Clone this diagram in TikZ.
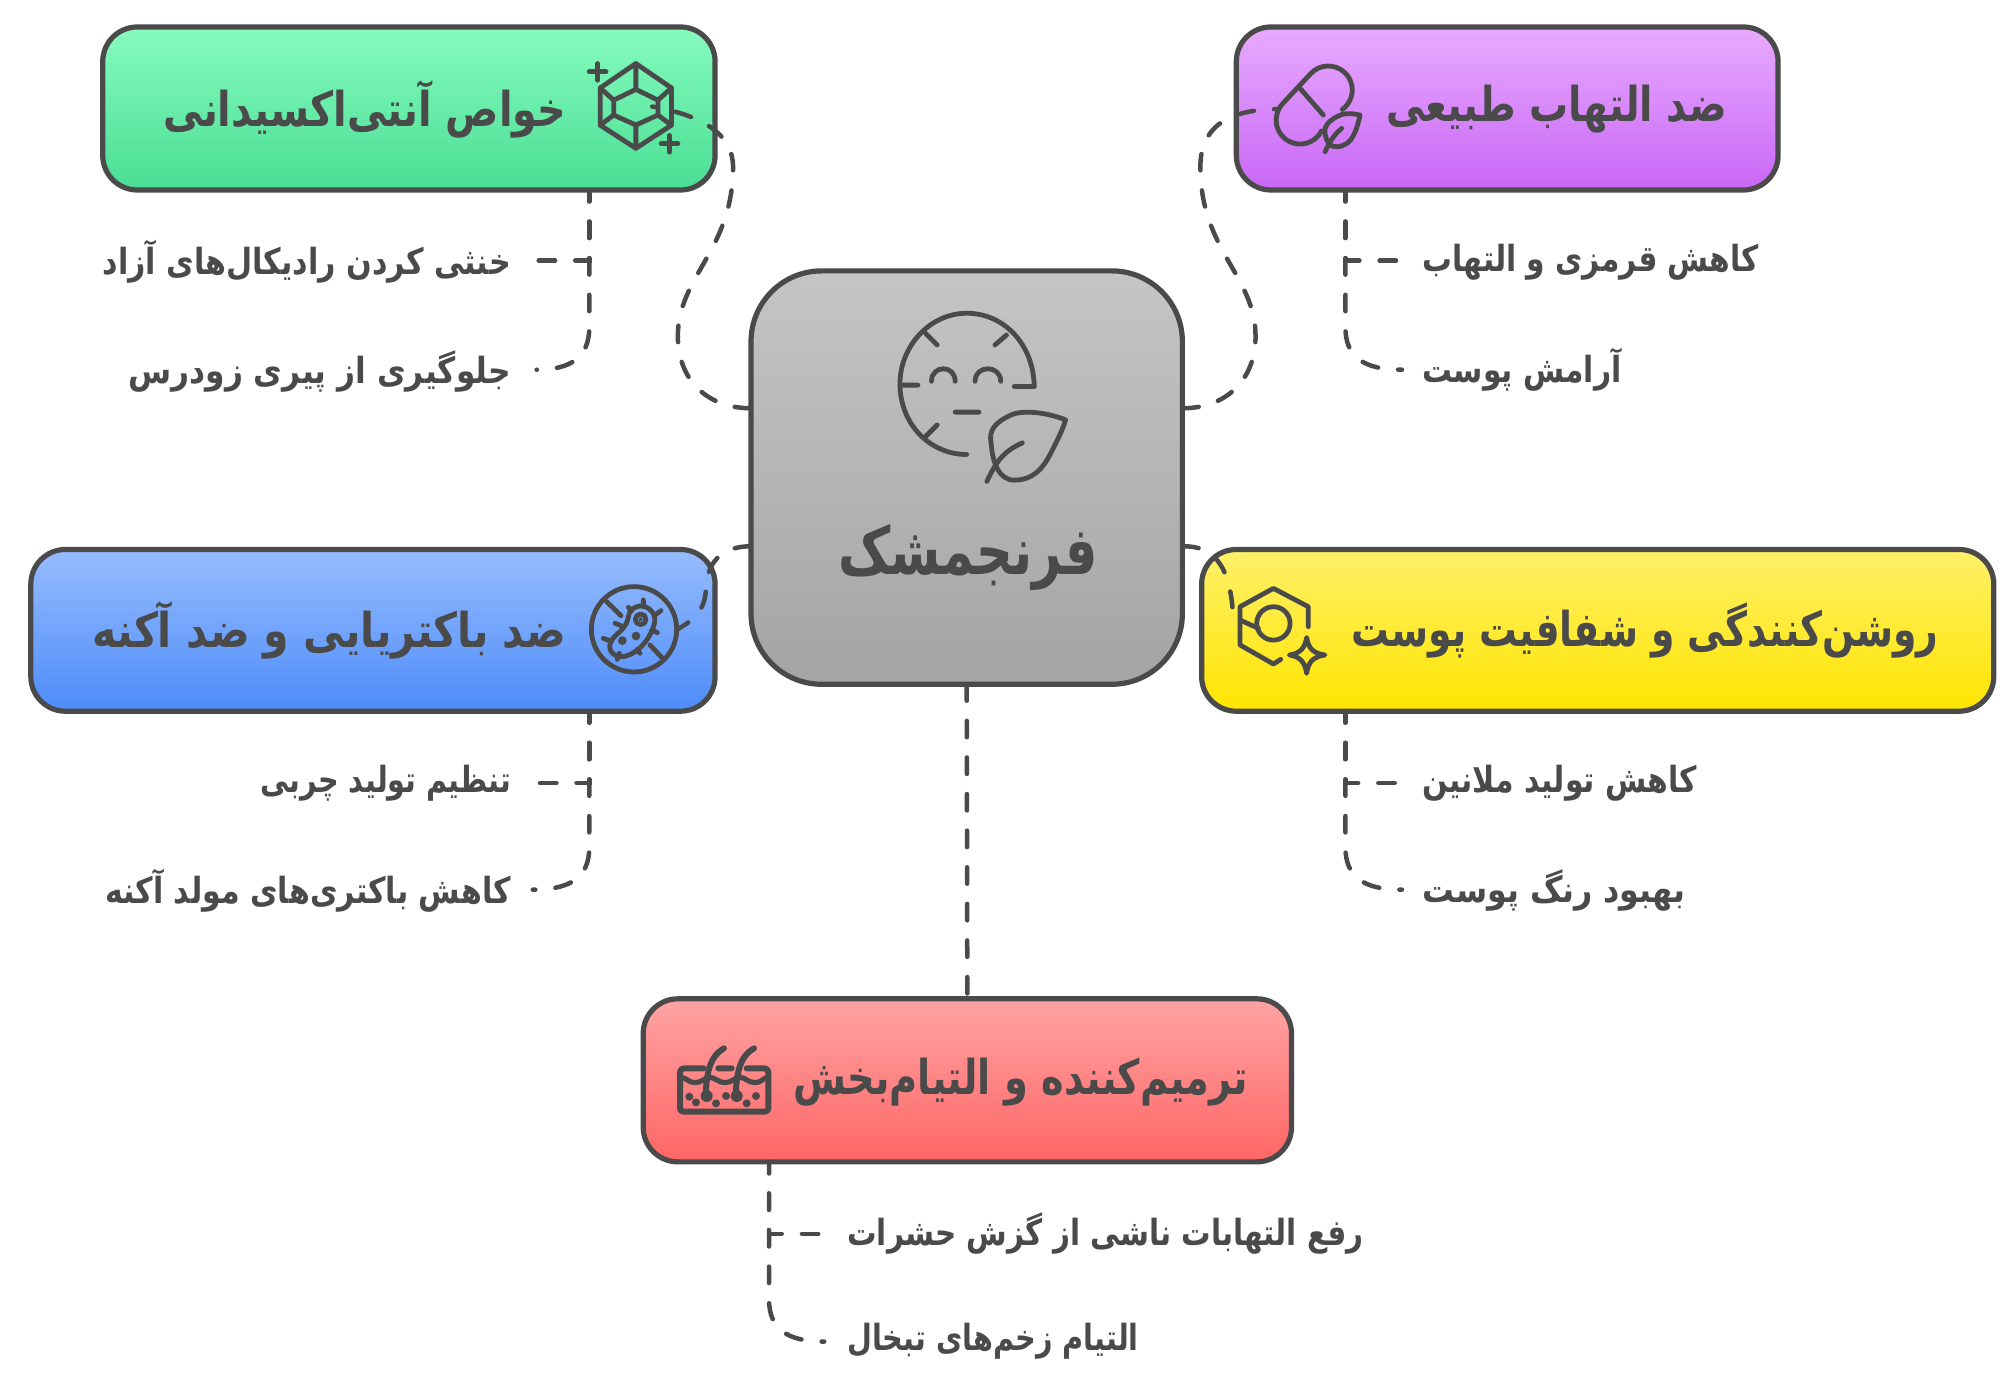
\documentclass[tikz,border=0pt]{standalone}
\usepackage{fontspec}
\usepackage{graphicx}
\newfontfamily\arfont[Script=Arabic]{DejaVu Sans}
\TeXXeTstate=1
\newdimen\uu \uu=0.6419pt
\definecolor{ln}{HTML}{4A4A4A}
% #1 font size in pt, #2 printed width in picture units, #3 text
\newcommand\ar[3]{\resizebox{#2\uu}{\height}{\fontsize{#1}{#1}\arfont\bfseries\color{ln}#3}}
\tikzset{
  panel/.style={draw=ln,line width=2.6pt,rounded corners=27\uu,inner sep=0pt,outer sep=0pt},
  link/.style={draw=ln,line width=2.25pt,line cap=round,dash pattern=on 8.2pt off 10.1pt,rounded corners=0pt},
  icon/.style={draw=ln,line width=2.4pt,line cap=round,line join=round},
  word/.style={inner sep=0pt,outer sep=0pt}
}
\begin{document}
\begin{tikzpicture}[x=0.6419pt,y=-0.6419pt]
\useasboundingbox (0,0) rectangle (1568,1075.7);
% boxes
\node[panel,minimum width=477\uu,minimum height=127\uu,top color={rgb,255:red,134;green,251;blue,190},bottom color={rgb,255:red,74;green,222;blue,148}] (green) at (318.5,84.5) {};
\node[panel,minimum width=422\uu,minimum height=127\uu,top color={rgb,255:red,232;green,170;blue,255},bottom color={rgb,255:red,200;green,103;blue,245}] (purple) at (1174,84.5) {};
\node[panel,rounded corners=55\uu,minimum width=336\uu,minimum height=322\uu,top color={rgb,255:red,197;green,197;blue,197},bottom color={rgb,255:red,164;green,164;blue,164}] (center) at (753,372) {};
\node[panel,minimum width=533\uu,minimum height=126\uu,top color={rgb,255:red,150;green,188;blue,253},bottom color={rgb,255:red,78;green,140;blue,250}] (blue) at (290.5,491) {};
\node[panel,minimum width=617\uu,minimum height=126\uu,top color={rgb,255:red,255;green,240;blue,105},bottom color={rgb,255:red,255;green,229;blue,0}] (yellow) at (1244.5,491) {};
\node[panel,minimum width=505\uu,minimum height=127\uu,top color={rgb,255:red,255;green,163;blue,163},bottom color={rgb,255:red,255;green,102;blue,102}] (red) at (753.5,841.5) {};
% titles
\node[word] (tcenter) at (754,434) {\ar{33}{202}{\beginR فرنجمشک\endR}};
\node[word] (tgreen) at (284,85) {\ar{24}{314}{\beginR خواص آنتی‌اکسیدانی\endR}};
\node[word] (tpurple) at (1212.5,85) {\ar{24}{265}{\beginR ضد التهاب طبیعی\endR}};
\node[word] (tblue) at (256.5,491) {\ar{24}{369}{\beginR ضد باکتریایی و ضد آکنه\endR}};
\node[word] (tyellow) at (1281.5,491) {\ar{24}{457}{\beginR روشن‌کنندگی و شفافیت پوست\endR}};
\node[word] (tred) at (795,843) {\ar{24}{354}{\beginR ترمیم‌کننده و التیام‌بخش\endR}};
% labels
\node[word] (la) at (239,204) {\ar{18}{318}{\beginR خنثی کردن رادیکال‌های آزاد\endR}};
\node[word] (lb) at (249,289) {\ar{18}{298}{\beginR جلوگیری از پیری زودرس\endR}};
\node[word] (lc) at (1239,204) {\ar{18}{262}{\beginR کاهش قرمزی و التهاب\endR}};
\node[word] (ld) at (1185.5,288) {\ar{18}{155}{\beginR آرامش پوست\endR}};
\node[word] (le) at (300.5,610) {\ar{18}{195}{\beginR تنظیم تولید چربی\endR}};
\node[word] (lf) at (240,694) {\ar{18}{316}{\beginR کاهش باکتری‌های مولد آکنه\endR}};
\node[word] (lg) at (1215,610) {\ar{18}{214}{\beginR کاهش تولید ملانین\endR}};
\node[word] (lh) at (1210.5,694) {\ar{18}{205}{\beginR بهبود رنگ پوست\endR}};
\node[word] (li) at (861,961) {\ar{18}{402}{\beginR رفع التهابات ناشی از گزش حشرات\endR}};
\node[word] (lj) at (773.5,1045) {\ar{18}{227}{\beginR التیام زخم‌های تبخال\endR}};
% free ends of connectors
\coordinate (c1) at (585,318);
\coordinate (c2) at (921,318);
\coordinate (c3) at (585,425.5);
\coordinate (c4) at (921,425.5);
\coordinate (g0) at (459,148);
\coordinate (ga) at (418,203);
\coordinate (gb) at (418,288);
\coordinate (p0) at (1048,148);
\coordinate (pa) at (1090,203);
\coordinate (pb) at (1092,288);
\coordinate (b0) at (459,554);
\coordinate (ba) at (418,610);
\coordinate (bb) at (415,693);
\coordinate (y0) at (1048,554);
\coordinate (ya) at (1090,610);
\coordinate (yb) at (1092,693);
\coordinate (r0) at (599,905);
\coordinate (ra) at (640,961);
\coordinate (rb) at (642,1045);
\coordinate (gend) at (508,83);
\coordinate (pend) at (996,85);
\coordinate (bend) at (528,490);
\coordinate (yend) at (960,473);
% centre to boxes
\draw[link] (center.west |- c1) .. controls (550,318) and (528,295) .. (528,262) .. controls (528,215) and (571,195) .. (571,130) .. controls (571,105) and (548,90) .. (gend);
\draw[link] (center.east |- c2) .. controls (956,318) and (978,295) .. (978,262) .. controls (978,215) and (935,195) .. (935,130) .. controls (935,100) and (955,85) .. (pend);
\draw[link] (center.west |- c3) .. controls (565,425.5) and (551,435) .. (550,458) .. controls (549,475) and (542,482) .. (bend);
\draw[link] (center.east |- c4) .. controls (945,425) and (957,440) .. (yend);
\draw[link] (center.south) -- (red.north);
% trunks
\draw[link,dash phase=2.5pt] (green.south -| g0) -- (g0 |- ga) -- (ga);
\draw[link,dash phase=2.5pt] (green.south -| g0) -- (459,255) .. controls (459,278) and (445,288) .. (gb);
\draw[link,dash phase=2.5pt] (purple.south -| p0) -- (p0 |- pa) -- (pa);
\draw[link,dash phase=2.5pt] (purple.south -| p0) -- (1048,255) .. controls (1048,278) and (1062,288) .. (pb);
\draw[link,dash phase=2.5pt] (blue.south -| b0) -- (b0 |- ba) -- (ba);
\draw[link,dash phase=2.5pt] (blue.south -| b0) -- (459,660) .. controls (459,683) and (445,693) .. (bb);
\draw[link,dash phase=2.5pt] (yellow.south -| y0) -- (y0 |- ya) -- (ya);
\draw[link,dash phase=2.5pt] (yellow.south -| y0) -- (1048,660) .. controls (1048,683) and (1062,693) .. (yb);
\draw[link,dash phase=2.5pt] (red.south -| r0) -- (r0 |- ra) -- (ra);
\draw[link,dash phase=2.5pt] (red.south -| r0) -- (599,1012) .. controls (599,1035) and (613,1045) .. (rb);
% face
\draw[icon] (805.6,301) .. controls (805,268) and (782,244) .. (753,244) .. controls (724,244) and (701,270) .. (701,299) .. controls (701,330) and (724,354) .. (753,354);
\draw[icon] (721,259.6)--(730,268.7) (784,261)--(775,268.7) (701,300)--(715,300) (790,301)--(805.6,301) (730,331)--(721,340) (744,321)--(762.5,321);
\draw[icon] (725.6,297) .. controls (725.6,284) and (744,284) .. (744,297);
\draw[icon] (759.5,297) .. controls (759.5,284) and (779.5,284) .. (779.5,297);
\draw[icon] (830,327) .. controls (812,320) and (795,320) .. (788,323) .. controls (775,329) and (770,335) .. (772,345) .. controls (773,360) and (778,374) .. (790,374) .. controls (808,374) and (815,360) .. (820,350) .. controls (825,340) and (828,334) .. cycle;
\draw[icon] (768.7,375) .. controls (775,362) and (780,352) .. (796.4,345);
% gem
\draw[icon] (495.3,49.5)--(523,68.5)--(523,97.5)--(495.3,115.5)--(467.5,97.5)--(467.5,68.5)--cycle;
\draw[icon] (495.3,69.6)--(512.5,78)--(512.5,89.6)--(495.3,97.4)--(478,89.6)--(478,78)--cycle;
\draw[icon] (495.3,49.5)--(495.3,69.6) (523,68.5)--(512.5,78) (523,97.5)--(512.5,89.6) (495.3,115.5)--(495.3,97.4) (467.5,97.5)--(478,89.6) (467.5,68.5)--(478,78);
\draw[icon] (459,56)--(472,56) (465.5,49.5)--(465.5,62.5) (515,112)--(528,112) (521.5,105.5)--(521.5,118.5);
% pill
\draw[icon] (1029.4,102) arc[start angle=27,end angle=223.3,radius=18.7] -- (1021,57.3) arc[start angle=-136.7,end angle=54,radius=18.7];
\draw[icon] (1012.6,68.8)--(1030.8,89.6);
\draw[icon] (1059.4,89.6) .. controls (1052,88) and (1046,88) .. (1041.2,90.9) .. controls (1034,95) and (1031,99) .. (1032.1,103.9) .. controls (1033,110) and (1036,115) .. (1041.2,114.3) .. controls (1048,114) and (1052,110) .. (1054,106) .. controls (1057,100) and (1058,96) .. cycle;
\draw[icon] (1032.1,118.2) .. controls (1036,110) and (1039,105) .. (1045.1,100);
% hexagon and star
\draw[icon] (1019.1,488.1)--(1019.1,472.6)--(991.9,458.3)--(965.9,472.6)--(965.9,502.4)--(991.9,517.2)--(997.6,513.6);
\draw[icon] (991.9,485.6) circle[radius=13];
\draw[icon] (965.9,483)--(980.2,489.4);
\draw[icon] (1017.8,496.5) .. controls (1019,505) and (1023,509) .. (1032.1,510.2) .. controls (1023,511.5) and (1019,515.5) .. (1017.8,524.5) .. controls (1016.5,515.5) and (1012.5,511.5) .. (1004.3,510.2) .. controls (1012.5,509) and (1016.5,505) .. cycle;
% bacterium
\begin{scope}[shift={(436.2,405)},scale=0.2597]
\draw[icon] (222,328) circle[radius=128];
\draw[icon] (140,245)--(183,287) (270,375)--(305,412);
\draw[icon] (240,258) .. controls (270,258) and (292,285) .. (282,315) .. controls (272,350) and (240,400) .. (190,410) .. controls (155,412) and (140,385) .. (155,360) .. controls (175,335) and (200,325) .. (205,290) .. controls (208,270) and (222,260) .. (240,258) -- cycle;
\draw[icon] (242,298) circle[radius=16];
\fill[ln] (187,362) circle[radius=13] (228,348) circle[radius=13] (242,298) circle[radius=6];
\draw[icon] (250,240)--(250,258) (205,262)--(215,272) (303,272)--(285,285) (165,310)--(185,318) (292,338)--(275,330) (130,355)--(155,365) (172,418)--(178,400) (240,400)--(232,388);
\end{scope}
% skin
\begin{scope}[shift={(506.3,794.5)},scale=0.2597]
\draw[icon,line width=3pt] (160,145)--(105,145) .. controls (95,145) and (90,150) .. (90,160)--(90,262) .. controls (90,272) and (95,275) .. (105,275)--(340,275) .. controls (350,275) and (355,272) .. (355,262)--(355,160) .. controls (355,150) and (350,145) .. (340,145)--(290,145) (205,145)--(245,145);
\draw[icon,line width=2.6pt] (90,172) .. controls (110,172) and (115,188) .. (135,188) .. controls (155,188) and (165,172) .. (180,172) .. controls (195,172) and (205,188) .. (225,188) .. controls (245,188) and (255,172) .. (270,172) .. controls (285,172) and (295,188) .. (315,188) .. controls (335,188) and (340,172) .. (355,172);
\draw[icon,line width=3pt] (167,225) .. controls (170,160) and (178,110) .. (222,85);
\draw[icon,line width=3pt] (257,225) .. controls (260,160) and (268,110) .. (312,85);
\fill[ln] (170,228) circle[radius=18] (260,228) circle[radius=18] (118,230) circle[radius=12] (138,247) circle[radius=12] (198,250) circle[radius=12] (228,228) circle[radius=12] (290,250) circle[radius=12] (318,228) circle[radius=12];
\end{scope}
\end{tikzpicture}
\end{document}
